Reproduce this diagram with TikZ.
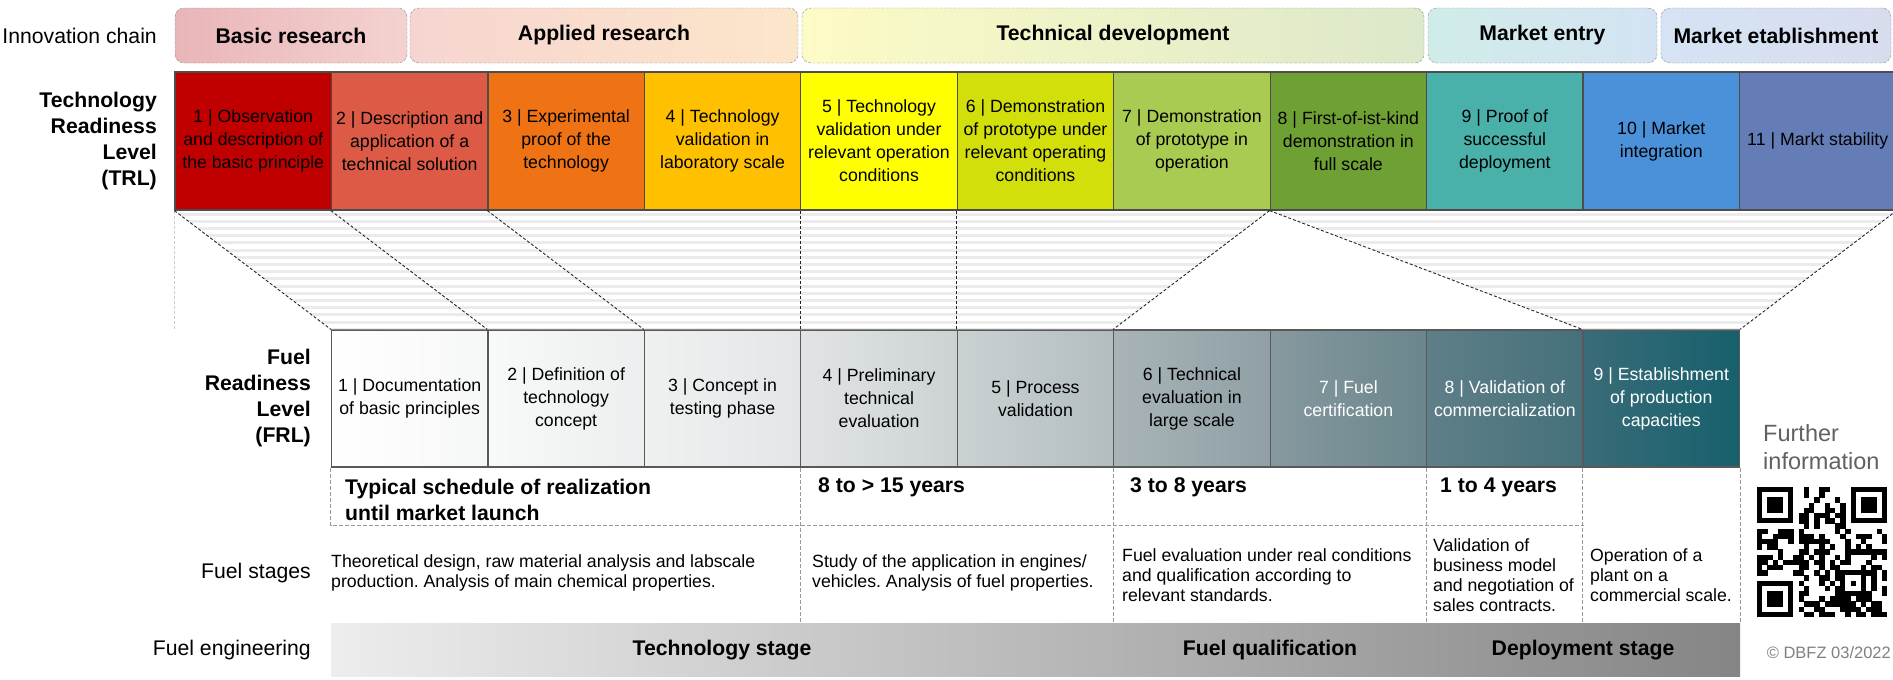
\documentclass[tikz,border=0pt]{standalone}
\usepackage{fontspec}
\setmainfont{Liberation Sans}
\usetikzlibrary{positioning}
\frenchspacing

\newcommand{\rowfont}{\fontsize{21.2}{26}\selectfont}
\newcommand{\cellfont}{\fontsize{17.7}{23}\selectfont}
\newcommand{\stagefont}{\fontsize{17.7}{20}\selectfont}
\newcommand{\infofont}{\fontsize{23.5}{28}\selectfont}
\newcommand{\copyfont}{\fontsize{16.5}{19}\selectfont}

\definecolor{barL}{HTML}{EDEDED}
\definecolor{barR}{HTML}{858585}

\begin{document}
\begin{tikzpicture}[x=1pt, y=-1pt,
    rowlabel/.style={anchor=east, align=right, inner sep=0pt, font=\rowfont},
    phase/.style={draw=black!45, dash pattern=on 3pt off 1.5pt, rounded corners=9pt,
        minimum height=55pt, inner sep=0pt, font=\rowfont\bfseries},
    trl/.style={draw=black!70, line width=1.2pt, minimum width=156.45pt, minimum height=138pt,
        align=center, inner sep=1pt, font=\cellfont},
    frl/.style={draw=black!65, line width=1.2pt, minimum width=156.45pt, minimum height=137pt,
        align=center, inner sep=1pt, font=\cellfont},
    funnel/.style={black!85, line width=0.9pt, dash pattern=on 3pt off 2pt},
    stripe/.style={black!8, line width=3pt},
    cell/.style={black!40, line width=0.8pt, dash pattern=on 4pt off 2pt},
    sched/.style={anchor=west, align=left, inner sep=0pt, font=\rowfont\bfseries},
    stage/.style={anchor=west, align=left, inner sep=0pt, font=\stagefont},
    engbar/.style={minimum width=1409pt, minimum height=53pt, inner sep=0pt,
        left color=barL, right color=barR},
    bartext/.style={inner sep=0pt, font=\rowfont\bfseries}]

    \useasboundingbox (0,0) rectangle (1893,680);

    % Innovation chain
    \node[rowlabel] (inno) at (157,35.5) {Innovation chain};
    \foreach \phname/\xa/\xb/\colL/\colR/\txt in {
        basic/175/407/E9B5B9/F4D2D0/Basic research,
        applied/410/798/F6D5D0/FCE6CA/Applied research,
        techdev/802/1424/FDFBC6/DCE8CA/Technical development,
        entry/1428/1657/D0ECE8/D4E3F3/Market entry,
        establ/1661/1891/D5E3F4/D8DDEE/Market etablishment}{
        \definecolor{phL}{HTML}{\colL}
        \definecolor{phR}{HTML}{\colR}
        \pgfmathsetmacro\xm{(\xa+\xb)/2}
        \pgfmathsetmacro\phw{\xb-\xa}
        \node[phase, minimum width=\phw pt, left color=phL, right color=phR] (\phname) at (\xm,35.5) {\txt};
    }

    % Technology readiness levels
    \node[rowlabel, font=\rowfont\bfseries] (trllabel) at (157,141) {Technology\\Readiness\\Level\\(TRL)};
    \foreach \i/\colF/\txt in {
        1/C00000/{1 | Observation\\and description of\\the basic principle},
        2/DC5A46/{2 | Description and\\application of a\\technical solution},
        3/EF7215/{3 | Experimental\\proof of the\\technology},
        4/FFC000/{4 | Technology\\validation in\\laboratory scale},
        5/FFFF00/{5 | Technology\\validation under\\relevant operation\\conditions},
        6/D2DF0B/{6 | Demonstration\\of prototype under\\relevant operating\\conditions},
        7/AACB52/{7 | Demonstration\\of prototype in\\operation},
        8/6EA033/{8 | First-of-ist-kind\\demonstration in\\full scale},
        9/49B0AA/{9 | Proof of\\successful\\deployment},
        10/4A91DA/{10 | Market\\integration},
        11/657DB6/{11 | Markt stability}}{
        \definecolor{trlfill}{HTML}{\colF}
        \pgfmathsetmacro\xm{175+(\i-0.5)*156.45}
        \node[trl, fill=trlfill] (trl\i) at (\xm,141) {\txt};
    }

    % Fuel readiness levels
    \node[rowlabel, font=\rowfont\bfseries] (frllabel) at (311,398.5) {Fuel\\Readiness\\Level\\(FRL)};
    \foreach \i/\colL/\colR/\tcol/\txt in {
        1/FFFFFF/F6F7F7/black/{1 | Documentation\\of basic principles},
        2/F8F9F9/ECEFEF/black/{2 | Definition of\\technology\\concept},
        3/EFF1F1/E3E6E7/black/{3 | Concept in\\testing phase},
        4/E1E4E5/CCD2D4/black/{4 | Preliminary\\technical\\evaluation},
        5/CBD1D3/B2BDC0/black/{5 | Process\\validation},
        6/A9B4B8/8FA0A5/black/{6 | Technical\\evaluation in\\large scale},
        7/86999E/6A868D/white/{7 | Fuel\\certification},
        8/5F7F88/45707B/white/{8 | Validation of\\commercialization},
        9/396C78/16606C/white/{9 | Establishment\\of production\\capacities}}{
        \definecolor{frlL}{HTML}{\colL}
        \definecolor{frlR}{HTML}{\colR}
        \pgfmathsetmacro\xm{175+(\i+0.5)*156.45}
        \node[frl, left color=frlL, right color=frlR, text=\tcol] (frl\i) at (\xm,398.5) {\txt};
    }

    % Hatched funnel between both scales
    \begin{scope}
        \clip (trl1.south west) -- (trl8.south west) -- (frl6.north west) -- (frl1.north west) -- cycle;
        \foreach \y in {214,221.2,...,330} \draw[stripe] (170,\y) -- (1900,\y);
    \end{scope}
    \begin{scope}
        \clip (trl8.south west) -- (trl11.south east) -- (frl9.north east) -- (frl9.north west) -- cycle;
        \foreach \y in {214,221.2,...,330} \draw[stripe] (170,\y) -- (1900,\y);
    \end{scope}
    \draw[black!20, dash pattern=on 3pt off 2pt] (trl1.south west) -- (trl1.south west |- frl1.north);

    \draw[funnel] (trl1.south west) -- (frl1.north west);
    \draw[funnel] (trl2.south west) -- (frl2.north west);
    \draw[funnel] (trl3.south west) -- (frl3.north west);
    \draw[funnel] (trl5.south west) -- (frl4.north west);
    \draw[funnel] (trl6.south west) -- (frl5.north west);
    \draw[funnel] (trl8.south west) -- (frl6.north west);
    \draw[funnel] (trl8.south west) -- (frl9.north west);
    \draw[funnel] (trl11.south east) -- (frl9.north east);

    % Schedule and fuel stages table
    \coordinate (rowline) at (0,525);
    \coordinate (barline) at (0,623);
    \draw[cell] (frl1.south west) -- (frl1.south west |- rowline) -- (frl8.south east |- rowline);
    \foreach \a in {frl4.south west, frl6.south west, frl8.south west, frl9.south west, frl9.south east}
        \draw[cell] (\a) -- (\a |- barline);

    \node[sched] (typical) at (345,499.5) {Typical schedule of realization\\until market launch};
    \node[sched] (yrsA) at (818,487) {8 to > 15 years};
    \node[sched] (yrsB) at (1130,487) {3 to 8 years};
    \node[sched] (yrsC) at (1440,487) {1 to 4 years};

    \node[rowlabel] (stagelabel) at (311,573) {Fuel stages};
    \node[stage] (stA) at (331,573) {Theoretical design, raw material analysis and labscale\\production. Analysis of main chemical properties.};
    \node[stage] (stB) at (812,573) {Study of the application in engines/\\vehicles. Analysis of fuel properties.};
    \node[stage] (stC) at (1122,575) {Fuel evaluation under real conditions\\and qualification according to\\relevant standards.};
    \node[stage] (stD) at (1433,575) {Validation of\\business model\\and negotiation of\\sales contracts.};
    \node[stage] (stE) at (1590,575) {Operation of a\\plant on a\\commercial scale.};

    % Fuel engineering bar
    \node[rowlabel] (englabel) at (311,650) {Fuel engineering};
    \node[engbar] (bar) at (1035.5,649.5) {};
    \node[bartext] (techstage) at (722,650) {Technology stage};
    \node[bartext] (fuelqual) at (1270,650) {Fuel qualification};
    \node[bartext] (deploy) at (1583,650) {Deployment stage};

    % Further information with QR code
    \node[anchor=west, align=left, inner sep=0pt, font=\infofont, text=black!62] (info) at (1763,447) {Further\\information};
    \begin{scope}[shift={(1757,487)}, x=5.2pt, y=-5.2pt]
        \pgfmathsetseed{2022}
        \foreach \r in {0,...,24}{
            \foreach \c in {0,...,24}{
                \pgfmathtruncatemacro\qrskip{(\r<8 && \c<8) || (\r<8 && \c>16) || (\r>16 && \c<8)}
                \ifnum\qrskip=0
                    \pgfmathtruncatemacro\qrbit{rnd<0.5}
                    \ifnum\qrbit=1 \fill (\c,\r) rectangle ++(1.02,1.02); \fi
                \fi
            }
        }
        \foreach \c/\r in {0/0,18/0,0/18}{
            \fill (\c,\r) rectangle ++(7,7);
            \fill[white] (\c+1,\r+1) rectangle ++(5,5);
            \fill (\c+2,\r+2) rectangle ++(3,3);
        }
        \fill (16,16) rectangle ++(5,5);
        \fill[white] (17,17) rectangle ++(3,3);
        \fill (18,18) rectangle ++(1,1);
    \end{scope}
    \node[anchor=east, inner sep=0pt, font=\copyfont, text=black!50] (copyr) at (1891,653) {© DBFZ 03/2022};
\end{tikzpicture}
\end{document}
